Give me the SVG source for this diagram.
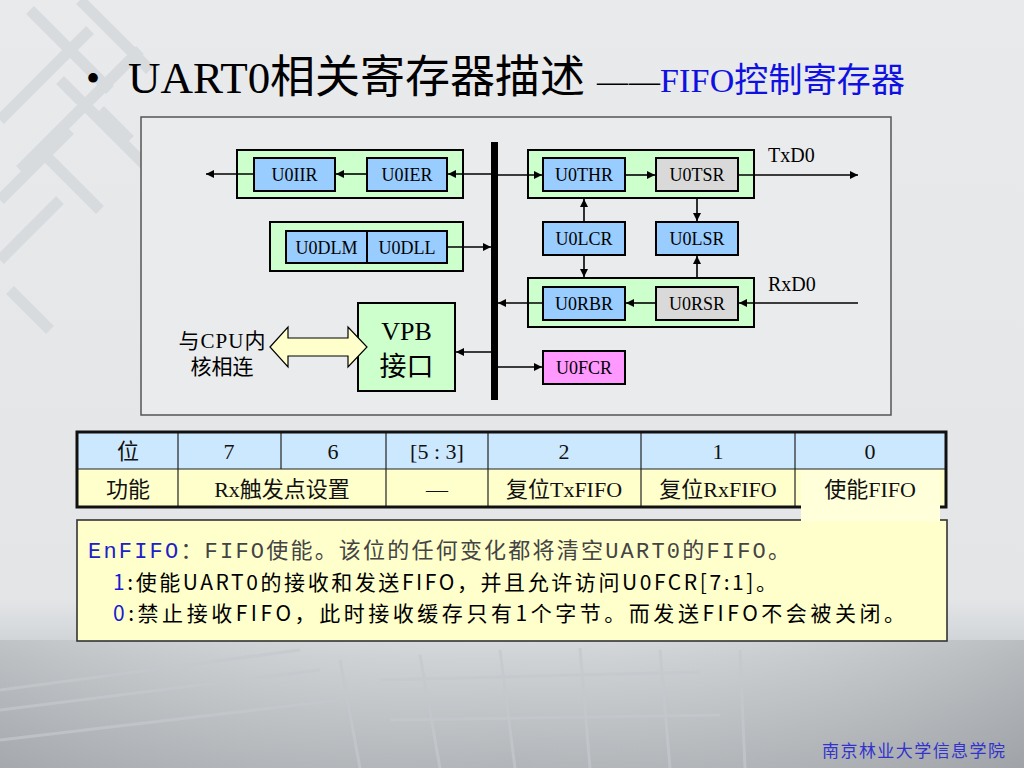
<svg xmlns="http://www.w3.org/2000/svg" width="1024" height="768" viewBox="0 0 1024 768">
<defs>
<linearGradient id="bgGrad" x1="0" y1="0" x2="0" y2="1">
<stop offset="0" stop-color="#E8EAEC"/>
<stop offset="0.78" stop-color="#E3E5E7"/>
<stop offset="0.86" stop-color="#C9CDD0"/>
<stop offset="1" stop-color="#A9ADB1"/>
</linearGradient>
<linearGradient id="bottomSide" x1="0" y1="0" x2="1" y2="0">
<stop offset="0" stop-color="#9EA2A6" stop-opacity="0.35"/>
<stop offset="0.5" stop-color="#FFFFFF" stop-opacity="0.1"/>
<stop offset="1" stop-color="#8E9296" stop-opacity="0.35"/>
</linearGradient>
<marker id="arr" viewBox="0 0 10 10" refX="10" refY="5" markerWidth="9" markerHeight="8" markerUnits="userSpaceOnUse" orient="auto">
<path d="M0,0 L10,5 L0,10 z" fill="#000"/>
</marker>
<style>
.serif{font-family:"Liberation Serif","Noto Sans CJK SC",serif;}
.grp{fill:#CCFFCC;stroke:#000;stroke-width:2;}
.reg{fill:#99CCFF;stroke:#000;stroke-width:2;}
.regg{fill:#D9D9D9;stroke:#000;stroke-width:2;}
.regm{fill:#FF99FF;stroke:#000;stroke-width:2;}
.rt{font-family:"Liberation Serif","Noto Sans CJK SC",serif;font-size:18px;fill:#000;text-anchor:middle;}
.con{stroke:#000;stroke-width:1.6;fill:none;marker-end:url(#arr);}
.cell{font-family:"Liberation Serif","Noto Sans CJK SC",serif;font-size:22px;fill:#111;text-anchor:middle;}
.grid{stroke:#222;stroke-width:1.2;}
.lat{stroke:#D8DBDE;stroke-width:11;fill:none;}
.pcb{stroke:#C4C8CC;stroke-width:3;fill:none;opacity:0.7;}
</style>
</defs>

<!-- background -->
<rect x="0" y="0" width="1024" height="768" fill="url(#bgGrad)"/>
<rect x="0" y="640" width="1024" height="128" fill="url(#bottomSide)"/>
<g id="lattice">
<path class="lat" d="M0,120 L90,30 M20,170 L140,50 M60,80 L160,180 M30,10 L110,90 M0,200 L70,130 M40,150 L100,210 M80,0 L150,70 M100,110 L130,140"/>
<path class="lat" d="M0,260 L60,200 M10,290 L50,330"/>
</g>
<g id="pcb">
<path class="pcb" d="M0,690 L300,650 M0,710 L320,670 M0,740 L340,700 M340,660 L360,768 M420,655 L440,768 M500,650 L515,768 M580,648 L590,768 M660,650 L670,768 M740,650 L745,768 M380,680 L700,672 M390,720 L720,715"/>
</g>

<!-- title -->
<g id="title">
<text x="86" y="92" class="serif" font-size="40" fill="#000">•</text>
<text x="128" y="93" class="serif" font-size="45" fill="#000" textLength="457">UART0相关寄存器描述</text>
<text x="597" y="92" class="serif" font-size="31" fill="#000" textLength="63">——</text>
<text x="660" y="92" class="serif" font-size="34" fill="#1010E0" textLength="245">FIFO控制寄存器</text>
</g>

<!-- diagram frame -->
<rect id="frame" x="141" y="117" width="750" height="298" fill="#E9EBED" stroke="#555" stroke-width="1.5"/>

<!-- bus -->
<rect id="bus" x="491" y="142" width="7" height="258" fill="#000"/>

<g id="grp1"><rect class="grp" x="237" y="150" width="226" height="48"/></g>
<g id="U0IIR"><rect class="reg" x="254" y="158" width="81" height="33"/><text class="rt" x="294.5" y="181">U0IIR</text></g>
<g id="U0IER"><rect class="reg" x="367" y="158" width="80" height="33"/><text class="rt" x="407" y="181">U0IER</text></g>

<g id="grp2"><rect class="grp" x="270" y="222" width="193" height="49"/></g>
<g id="U0DLM"><rect class="reg" x="286" y="231" width="81" height="32"/><text class="rt" x="326.5" y="254">U0DLM</text></g>
<g id="U0DLL"><rect class="reg" x="367" y="231" width="80" height="32"/><text class="rt" x="407" y="254">U0DLL</text></g>

<g id="VPB">
<rect x="358" y="303" width="97" height="88" fill="#CCFFCC" stroke="#000" stroke-width="2"/>
<text class="serif" x="406.5" y="340" font-size="26" text-anchor="middle">VPB</text>
<text class="serif" x="406.5" y="376" font-size="27" text-anchor="middle">接口</text>
</g>

<g id="cpu">
<polygon points="270,347 288,327 288,338 348,338 348,327 367,347 348,367 348,356 288,356 288,367" fill="#FFFFCC" stroke="#000" stroke-width="1.2"/>
<text class="serif" x="222" y="348" font-size="21" text-anchor="middle" textLength="87">与CPU内</text>
<text class="serif" x="222" y="374" font-size="21" text-anchor="middle">核相连</text>
</g>

<g id="grp3"><rect class="grp" x="528" y="150" width="226" height="48"/></g>
<g id="U0THR"><rect class="reg" x="543" y="158" width="82" height="33"/><text class="rt" x="584" y="181">U0THR</text></g>
<g id="U0TSR"><rect class="regg" x="656" y="158" width="82" height="33"/><text class="rt" x="697" y="181">U0TSR</text></g>
<g id="U0LCR"><rect class="reg" x="543" y="222" width="82" height="33"/><text class="rt" x="584" y="245">U0LCR</text></g>
<g id="U0LSR"><rect class="reg" x="656" y="222" width="82" height="33"/><text class="rt" x="697" y="245">U0LSR</text></g>
<g id="grp4"><rect class="grp" x="528" y="278" width="226" height="49"/></g>
<g id="U0RBR"><rect class="reg" x="543" y="287" width="82" height="33"/><text class="rt" x="584" y="310">U0RBR</text></g>
<g id="U0RSR"><rect class="regg" x="656" y="287" width="82" height="33"/><text class="rt" x="697" y="310">U0RSR</text></g>
<g id="U0FCR"><rect class="regm" x="543" y="351" width="82" height="33"/><text class="rt" x="584" y="374">U0FCR</text></g>

<g id="labels">
<text class="serif" x="768" y="162" font-size="20">TxD0</text>
<text class="serif" x="768" y="291" font-size="20">RxD0</text>
</g>

<g id="connectors">
<line class="con" x1="491" y1="174" x2="448" y2="174"/>
<line class="con" x1="367" y1="174" x2="336" y2="174"/>
<line class="con" x1="254" y1="174" x2="206" y2="174"/>
<line class="con" x1="447" y1="247" x2="491" y2="247"/>
<line class="con" x1="491" y1="352" x2="456" y2="352"/>
<line class="con" x1="498" y1="175" x2="542" y2="175"/>
<line class="con" x1="625" y1="175" x2="655" y2="175"/>
<line class="con" x1="738" y1="175" x2="858" y2="175"/>
<line class="con" x1="584" y1="222" x2="584" y2="199"/>
<line class="con" x1="584" y1="255" x2="584" y2="277"/>
<line class="con" x1="697" y1="198" x2="697" y2="221"/>
<line class="con" x1="697" y1="278" x2="697" y2="256"/>
<line class="con" x1="858" y1="303" x2="739" y2="303"/>
<line class="con" x1="656" y1="303" x2="626" y2="303"/>
<line class="con" x1="543" y1="303" x2="498" y2="303"/>
<line class="con" x1="498" y1="367" x2="542" y2="367"/>
</g>

<!-- table -->
<g id="table">
<rect x="77" y="432" width="869" height="37" fill="#CCE8FF"/>
<rect x="77" y="469" width="869" height="38" fill="#FFFFCC"/>
<line class="grid" x1="77" y1="469" x2="946" y2="469"/>
<line class="grid" x1="178" y1="432" x2="178" y2="507"/>
<line class="grid" x1="281" y1="432" x2="281" y2="469"/>
<line class="grid" x1="386" y1="432" x2="386" y2="507"/>
<line class="grid" x1="488" y1="432" x2="488" y2="507"/>
<line class="grid" x1="641" y1="432" x2="641" y2="507"/>
<line class="grid" x1="795" y1="432" x2="795" y2="507"/>
<rect x="77" y="432" width="869" height="75" fill="none" stroke="#111" stroke-width="3"/>
<text class="cell" x="128" y="459">位</text>
<text class="cell" x="229" y="459">7</text>
<text class="cell" x="333" y="459">6</text>
<text class="cell" x="437" y="459">[5 : 3]</text>
<text class="cell" x="564" y="459">2</text>
<text class="cell" x="718" y="459">1</text>
<text class="cell" x="870" y="459">0</text>
<text class="cell" x="128" y="497">功能</text>
<text class="cell" x="282" y="497">Rx触发点设置</text>
<text class="cell" x="437" y="497">—</text>
<text class="cell" x="564" y="497">复位TxFIFO</text>
<text class="cell" x="718" y="497">复位RxFIFO</text>
</g>

<!-- note box -->
<g id="note">
<rect x="77" y="520" width="870" height="121" fill="#FFFFCC" stroke="#333" stroke-width="1.6"/>
<rect x="801" y="470.5" width="139" height="51" fill="#FFFFDA"/>
<text class="cell" x="870" y="497">使能FIFO</text>
<text x="88" y="558" font-family="'Liberation Mono','Noto Sans CJK SC',monospace" font-size="22" fill="#444" textLength="702"><tspan fill="#2020C8">EnFIFO</tspan>：FIFO使能。该位的任何变化都将清空UART0的FIFO。</text>
<text x="113" y="590" font-family="'Noto Sans CJK SC',sans-serif" font-size="21" fill="#000" textLength="664"><tspan fill="#1A1AD0">1</tspan>:使能UART0的接收和发送FIFO，并且允许访问U0FCR[7:1]。</text>
<text x="113" y="621" font-family="'Noto Sans CJK SC',sans-serif" font-size="21" fill="#000" textLength="792"><tspan fill="#1A1AD0">0</tspan>:禁止接收FIFO，此时接收缓存只有1个字节。而发送FIFO不会被关闭。</text>
</g>

<text id="footer" x="822" y="757" font-family="'Noto Sans CJK SC',sans-serif" font-size="17" fill="#3333CC" textLength="183">南京林业大学信息学院</text>
</svg>
